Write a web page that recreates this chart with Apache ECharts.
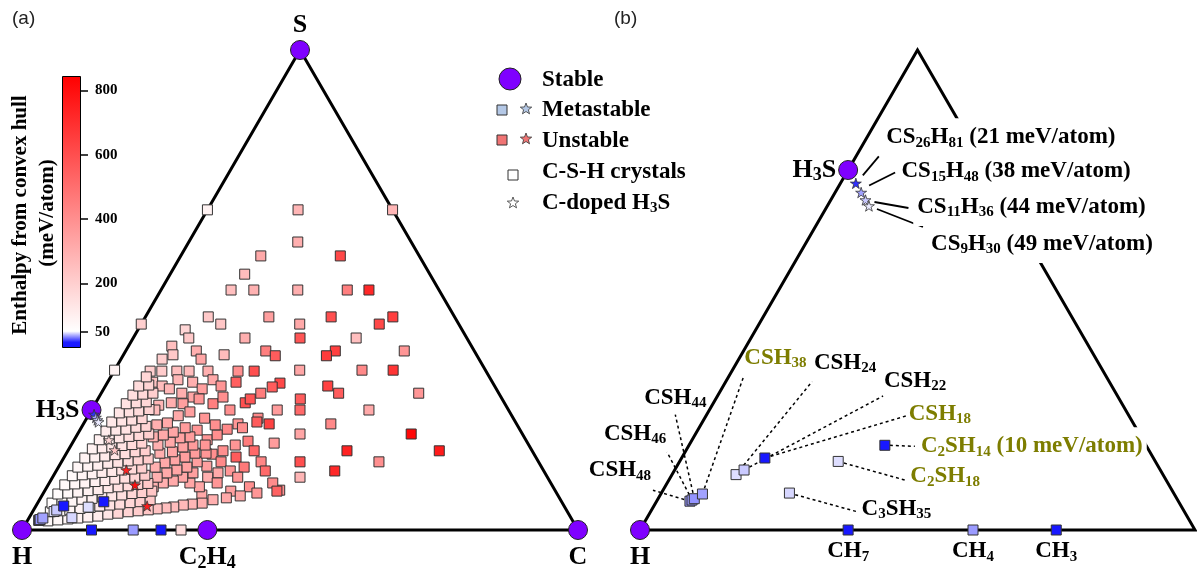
<!DOCTYPE html>
<html><head><meta charset="utf-8">
<script src="https://cdn.jsdelivr.net/npm/echarts@6/dist/echarts.min.js"></script>
<style>html,body{margin:0;padding:0;background:#fff}#c{width:1201px;height:579px}</style>
</head><body><div id="c"></div>
<script>
// ================= DATA =================
// stable phases: [name, C atoms, S atoms, H atoms]
const stablePhases = [['H',0,0,1],['C',1,0,0],['S',0,1,0],['C2H4',2,0,4],['H3S',0,1,3]];
// metastable C-S-H phases: [name, C, S, H, enthalpy above hull (meV/atom)]
const metastablePhases = [
  ['CSH48',1,1,48,36],['CSH46',1,1,46,37],['CSH44',1,1,44,36],['CSH38',1,1,38,38],
  ['CSH24',1,1,24,47],['CSH22',1,1,22,44],['CSH18',1,1,18,10],['C2SH14',2,1,14,10],
  ['C2SH18',2,1,18,47],['C3SH35',3,1,35,46],['CH7',1,0,7,8],['CH4',1,0,4,37],['CH3',1,0,3,9]
];
// C-doped H3S: [name, C, S, H, enthalpy (meV/atom)]
const dopedH3S = [
  ['CS26H81',1,26,81,21],['CS15H48',1,15,48,38],['CS11H36',1,11,36,44],['CS9H30',1,9,30,49],
  ['CS3H12',1,3,12,180],['CS2H9',1,2,9,230],['CSH6',1,1,6,740],['C5S3H24',5,3,24,800],['C4SH15',4,1,15,760]
];
// all other searched C-S-H crystals: [S at.%, C at.%, enthalpy (meV/atom)]
const searchedPhases = [
 [66.7,16.3,280],[60,19.6,300],[57.1,14.4,320],[53.3,13.4,260],[50,12.6,250],[50,16.7,290],[50,24.6,300],[57.1,28.7,620],[50,33.5,450],[50,37.4,720],[66.7,33.3,280],[66.7,0,90],[42.9,0,200],[33.3,0,90],
 [44.4,33.4,600],[44.4,44.5,650],[42.9,28.5,320],[42.9,42.8,620],[40,30,580],[40,40.1,250],[37.3,37.7,650],[36.3,36.6,660],[37.3,50.1,380],[33.3,33.3,330],[33.3,44.5,420],[33.3,50.1,680],[30.6,31.1,620],[30,40,640],[28.5,42.7,560],[28.5,57.1,380],[27.3,36.4,560],[25,37.5,520],[25,49.9,320],[22.1,44.5,420],[20,40,330],[20,60,820],[16.5,50.2,740],[16.5,66.8,760],[14.2,42.9,600],[14.2,57.1,400],[12.3,50.1,720],[11,44.5,280],[8.3,42.2,400],
 [44.4,11.3,220],[42.9,14.3,230],[44.4,22.2,350],[41.7,8.5,180],[40,10,220],[40,20.1,300],[38.3,7.8,250],[37.3,12.7,300],[36.5,8.9,220],[35.6,14.4,330],[36.5,18.1,260],[37.3,25.2,450],[36.3,27.4,560],[35.6,7.4,200],[33.1,6.5,200],[33.1,8.6,210],[33.1,11.3,250],[33.1,13.5,260],[33.1,16.9,300],[33.1,22.3,400],[33.1,25.2,600],[30.8,8.1,240],[30,10.2,260],[31.3,12.4,280],[30.8,15.3,300],[31.3,18.7,320],[29.4,17.7,350],[30,20.8,380],[30.8,23.1,550],[29.4,11.8,280],[28.5,14.5,300],[27.7,16.9,330],[26.5,13.6,300],[26.3,15.8,350],[27.3,18.2,380],[26.3,21.2,450],[27.7,22.3,400],[26.5,26.9,600],[27.3,27.4,580],[28.5,28.7,460],[29.8,30.1,560],[25,33.4,360],[25,24.9,400],[23.3,30.8,420],[26,11.6,280],[25,11.4,260],
 [22.1,27.8,380],[22.5,31,560],[22.1,33.4,640],[21,26.4,420],[21.3,29,400],[18.5,31.4,460],[17.7,29.5,380],[18.1,36.3,360],[16.5,33.5,520],[16.5,27.9,400],[18.8,23.9,380],[19.8,25.2,400],[20.8,21.1,380],[15.8,26.3,400],[15.2,30.9,560],[14.2,28.7,420],[14.2,35.9,430],[13.1,33.4,470],[12.3,37.6,520],[12.3,31.3,380],[13.3,26.6,350],[11.9,29.3,320],[11,33.3,380],[11,27.9,300],[9.8,30.2,380],[9.8,40.2,410],[8.1,41.8,540],[9,36.4,400],[7.7,38.4,380],[8.1,33.5,350],[7.1,35.7,330],[6.7,33.4,320],[6.3,31.2,300],[7.3,28.7,320],[5.6,29.6,300],[5.4,27.9,280],[5.2,26.4,270],[4.8,24.9,260],[4.6,23.6,250],[4.4,22.1,240],[9,27.4,330],[9.8,25.3,330],[11.9,24.8,350],[11,23.4,330],[10.2,22.1,320],[9.8,20.5,300],[9,19.1,290],[14.2,24.4,350],[13.1,23.1,340],[12.5,21.6,330],[11.9,20.1,320],[11,18.8,300],[16,25.1,380],[16,23.1,360],[15.2,21.7,350],[14.6,20.2,330],[14,18.7,320],[13.1,17.4,300],[17.7,24.1,380],[17.7,21.9,360],[17.3,20.3,340],[16.3,18.9,330],[16,16.8,300],[19.4,20.5,360],[19.2,18.8,340],[18.3,17.5,320],[17.7,15.6,300],[21.3,18.7,360],[20.4,17,330],[19.8,15.5,320],[19.4,13.9,300],[22.3,15,320],[21.9,13.3,300],[24.6,17.9,350],[23.3,21.2,380],[23.8,16.2,320],[21.9,23.8,400],[0,28.6,160],
 [1.9,3.7,70],[2.1,5.4,75],[2.3,7.1,80],[2.5,8.8,90],[2.7,10.5,95],[2.9,12.2,110],[3.3,13.8,130],[3.5,15.5,180],[3.8,17.2,190],[4,18.9,210],[4.2,20.6,230],
 [3.8,3.2,65],[4,4.9,70],[4.2,6.5,80],[4.5,8.2,85],[4.7,9.9,100],[5,11.5,120],[5.2,13.2,140],[5.4,14.9,160],[5.7,16.6,180],[5.9,18.3,200],[6.3,19.9,220],
 [5.6,2.6,60],[5.8,4.3,70],[6,6,80],[6.4,7.6,90],[6.6,9.3,100],[6.9,11,115],[7.1,12.6,130],[7.3,14.3,150],[7.6,16,180],[7.8,17.7,200],[8.1,19.3,230],
 [7.5,2.7,65],[7.7,4.4,75],[7.9,6.1,85],[8.2,7.8,95],[8.4,9.5,110],[8.8,11.1,125],[9,12.8,145],[9.2,14.5,165],[9.5,16.1,190],[9.7,17.8,220],
 [9.4,3,70],[9.6,4.7,80],[9.8,6.4,90],[10.1,8.1,100],[10.3,9.8,115],[10.6,11.4,135],[10.8,13.1,155],[11,14.8,180],[11.4,16.4,210],
 [11.3,3.4,75],[11.5,5.1,85],[11.7,6.8,95],[12,8.4,110],[12.2,10.1,125],[12.5,11.7,145],[12.7,13.4,170],[12.9,15.1,200],
 [13.1,3.5,80],[13.3,5.2,90],[13.5,6.9,105],[13.9,8.5,120],[14.1,10.2,140],[14.4,11.9,160],[14.6,13.6,185],[14.8,15.3,210],
 [15,3.8,90],[15.2,5.5,100],[15.4,7.2,115],[15.7,8.9,130],[15.9,10.6,150],[16.3,12.2,175],[16.5,13.9,200],
 [16.9,4.2,95],[17.1,5.9,110],[17.3,7.5,125],[17.6,9.2,140],[17.8,10.9,165],[18.1,12.5,190],
 [18.8,4.5,100],[19,6.2,115],[19.2,7.9,130],[19.5,9.5,150],[19.7,11.2,170],[20,12.8,200],
 [20.6,4.8,110],[20.8,6.5,125],[21,8.2,140],[21.4,9.8,160],[21.6,11.5,185],
 [22.5,4.9,120],[22.7,6.6,135],[22.9,8.3,150],[23.2,10,175],
 [24.4,5.3,130],[24.6,7,145],[24.8,8.6,165],[25.1,10.3,190],
 [26.3,5.6,140],[26.5,7.3,160],[26.7,9,180],
 [28.1,5.9,150],[28.3,7.6,170],[28.5,9.3,200],
 [30,6,160],[30.2,7.7,190],
 [31.9,6.4,180]
];
const colorbarTicks = [50,200,400,600,800];
const enthalpyRange = [0,845];
const metastableCutoff = 50;

// ================= STYLE / LAYOUT =================
const SERIF = '"Liberation Serif","Times New Roman",serif';
const SANS = '"Liberation Sans",Arial,sans-serif';
const PURPLE = '#7f00ff';
const OLIVE = '#7d7d00';
const STAR = 'path://M0,-10L2.24,-3.09L9.51,-3.09L3.63,1.18L5.88,8.09L0,3.82L-5.88,8.09L-3.63,1.18L-9.51,-3.09L-2.24,-3.09Z';
const colorStops = [[0,[20,20,255]],[18,[28,28,255]],[52,[255,255,255]],[845,[255,0,0]]];
const stableLabelA = {H:['bottom',3],C:['bottom',3],S:['top',0],C2H4:['bottom',3],H3S:['left',2]};
const stableLabelB = {H:['bottom',3],H3S:['left',2]};
const annotB = {
  CSH48:{off:[-70,-31],line:[[0,0],[-37,-11]]},
  CSH46:{off:[-57,-66],line:[[0,0],[-25,-48]]},
  CSH44:{off:[-19,-101],line:[[0,0],[-19,-84]]},
  CSH38:{off:[73,-136],line:[[0,0],[41,-117]],olive:true},
  CSH24:{off:[109,-112],line:[[0,0],[76,-93]]},
  CSH22:{off:[171,-89],line:[[0,0],[139,-74]]},
  CSH18:{off:[175,-44],line:[[0,0],[141,-42]],olive:true},
  C2SH14:{off:[147,1],line:[[5,0],[30,1]],olive:true,showE:true},
  C2SH18:{off:[107,15],line:[[0,0],[68,19]],olive:true},
  C3SH35:{off:[107,16],line:[[0,0],[69,19]]},
  CH7:{below:true},CH4:{below:true},CH3:{below:true},
  CS26H81:{off:[145,-46],line:[[7,-8],[23,-27]],solid:true,showE:true},
  CS15H48:{off:[155,-21],line:[[8,-7],[34,-20]],solid:true,showE:true},
  CS11H36:{off:[166,7],line:[[9,2],[43,8]],solid:true,showE:true},
  CS9H30:{off:[173,38],line:[[8,3],[54,21]],solid:true,showE:true}
};

// ================= HELPERS =================
function frac(c,s,h){const n=c+s+h;return {c:100*c/n,s:100*s/n};}
function tern(s,c){return [c+s/2,s];}          // ternary -> (horizontal, S fraction)
function enthalpyColor(e){
  for(let i=1;i<colorStops.length;i++){
    if(e<=colorStops[i][0]||i===colorStops.length-1){
      const a=colorStops[i-1],b=colorStops[i];
      const t=Math.max(0,Math.min(1,(e-a[0])/(b[0]-a[0])));
      const c=a[1].map((v,k)=>Math.round(v+(b[1][k]-v)*t));
      return 'rgb('+c.join(',')+')';
    }
  }
}
function richFormula(name,suffix){
  let out=name.match(/[A-Za-z]+|\d+/g).map(p=>/\d/.test(p)?'{s|'+p+'}':'{n|'+p+'}').join('');
  if(suffix) out+='{n|'+suffix+'}';
  return out;
}
function richStyles(size,sub,color){
  return {n:{fontFamily:SERIF,fontWeight:'bold',fontSize:size,lineHeight:size+3,color:color||'#000'},
          s:{fontFamily:SERIF,fontWeight:'bold',fontSize:sub,lineHeight:Math.round(sub*0.66),verticalAlign:'bottom',color:color||'#000'}};
}
function starPts(cx,cy,R){const p=[];for(let i=0;i<10;i++){const r=i%2?R*0.42:R;const a=-Math.PI/2+i*Math.PI/5;p.push([cx+r*Math.cos(a),cy+r*Math.sin(a)]);}return p;}
const colorFn=p=>enthalpyColor(p.value[2]);

// ================= BUILD =================
const searchedPts = searchedPhases.map(d=>tern(d[0],d[1]).concat(d[2]));
const metaPts = metastablePhases.map(d=>{const f=frac(d[1],d[2],d[3]);return {name:d[0],value:tern(f.s,f.c).concat(d[4])};});
const starPtsData = dopedH3S.map(d=>{const f=frac(d[1],d[2],d[3]);return {name:d[0],value:tern(f.s,f.c).concat(d[4])};});
const stablePts = stablePhases.map(d=>{const f=frac(d[1],d[2],d[3]);return {name:d[0],f:f,value:tern(f.s,f.c)};});
const cornerA = [frac(0,0,1),frac(1,0,0),frac(0,1,0),frac(0,0,1)].map(f=>tern(f.s,f.c));
const cornerB = [frac(0,0,1),frac(1,0,2),frac(0,1,2),frac(0,0,1)].map(f=>tern(f.s,f.c));
const bMax = 100/3;

const stableA = stablePts.map(p=>({name:p.name,value:p.value,label:{position:stableLabelA[p.name][0],distance:stableLabelA[p.name][1]}}));
const stableB = stablePts.filter(p=>p.f.c<bMax-0.01&&p.f.s<bMax-0.01)
  .map(p=>({name:p.name,value:p.value,label:{position:stableLabelB[p.name][0],distance:stableLabelB[p.name][1]}}));

function annotItem(p){
  const a=annotB[p.name]||{};
  const lab=a.below?{position:'bottom',distance:3}:{position:'inside',offset:a.off};
  lab.rich=richStyles(23,15,a.olive?OLIVE:'#000');
  if(a.showE){lab.backgroundColor='#fff';lab.padding=[6,4,6,4];}
  return {name:p.name,value:p.value,label:lab};
}
const metaB = metaPts.filter(p=>p.value[2]<metastableCutoff).map(annotItem);
const starB = starPtsData.filter(p=>p.value[2]<metastableCutoff).map(annotItem);
const leaderItems = metaPts.concat(starPtsData).filter(p=>p.value[2]<metastableCutoff&&annotB[p.name]&&annotB[p.name].line);

const labelFormatterB = p=>{const a=annotB[p.name]||{};return richFormula(p.name,a.showE?' ('+p.value[2]+' meV/atom)':'');};

const cbStops = colorStops.slice().reverse().map(s=>({offset:1-(s[0]-enthalpyRange[0])/(enthalpyRange[1]-enthalpyRange[0]),color:'rgb('+s[1].join(',')+')'}));

const squareStyle = {color:colorFn,borderColor:'#333',borderWidth:1,opacity:1};
const rich26 = richStyles(26,18), rich23 = richStyles(23,15);

const option = {
  animation:false,
  textStyle:{fontFamily:SERIF},
  grid:[
    {left:22,top:50,width:556,height:480},
    {left:640,top:50,width:555,height:480},
    {left:62,top:76,width:19,height:272}
  ],
  xAxis:[
    {gridIndex:0,type:'value',min:0,max:100,show:false},
    {gridIndex:1,type:'value',min:0,max:bMax,show:false},
    {gridIndex:2,type:'category',data:['E'],show:false}
  ],
  yAxis:[
    {gridIndex:0,type:'value',min:0,max:100,show:false},
    {gridIndex:1,type:'value',min:0,max:bMax,show:false},
    {gridIndex:2,type:'value',min:enthalpyRange[0],max:enthalpyRange[1],position:'right',
     splitLine:{show:false},axisLine:{show:false},
     axisTick:{show:true,customValues:colorbarTicks,length:7,lineStyle:{color:'#000',width:1.5}},
     axisLabel:{show:true,customValues:colorbarTicks,margin:14,color:'#000',fontFamily:SERIF,fontWeight:'bold',fontSize:15}}
  ],
  series:[
    {type:'line',xAxisIndex:0,yAxisIndex:0,data:cornerA,showSymbol:false,symbol:'none',clip:false,silent:true,z:1,
     lineStyle:{color:'#000',width:3,join:'miter'}},
    {type:'scatter',xAxisIndex:0,yAxisIndex:0,data:searchedPts,symbol:'rect',symbolSize:10,clip:false,z:3,
     itemStyle:squareStyle},
    {type:'scatter',xAxisIndex:0,yAxisIndex:0,data:metaPts,symbol:'rect',symbolSize:10,clip:false,z:3,
     itemStyle:squareStyle},
    {type:'scatter',xAxisIndex:0,yAxisIndex:0,data:stableA,symbol:'circle',symbolSize:19,clip:false,z:4,
     itemStyle:{color:PURPLE,borderColor:'#222',borderWidth:1,opacity:1},
     label:{show:true,color:'#000',formatter:p=>richFormula(p.name),rich:rich26}},
    {type:'scatter',xAxisIndex:0,yAxisIndex:0,data:starPtsData,symbol:STAR,symbolSize:11,symbolKeepAspect:true,clip:false,z:5,
     itemStyle:{color:colorFn,borderColor:'#333',borderWidth:0.8,opacity:1}},

    {type:'line',xAxisIndex:1,yAxisIndex:1,data:cornerB,showSymbol:false,symbol:'none',clip:false,silent:true,z:1,
     lineStyle:{color:'#000',width:3,join:'miter'}},
    {type:'custom',xAxisIndex:1,yAxisIndex:1,coordinateSystem:'cartesian2d',clip:false,z:2,silent:true,
     data:leaderItems.map(p=>({name:p.name,value:[p.value[0],p.value[1]]})),
     renderItem:(params,api)=>{
       const pt=api.coord([api.value(0),api.value(1)]);
       const a=annotB[leaderItems[params.dataIndex].name];
       return {type:'line',shape:{x1:pt[0]+a.line[0][0],y1:pt[1]+a.line[0][1],x2:pt[0]+a.line[1][0],y2:pt[1]+a.line[1][1]},
               style:{stroke:'#000',lineWidth:a.solid?1.8:1.5,lineDash:a.solid?null:[3,3]}};
     }},
    {type:'scatter',xAxisIndex:1,yAxisIndex:1,data:metaB,symbol:'rect',symbolSize:10,clip:false,z:3,
     itemStyle:squareStyle,
     label:{show:true,color:'#000',formatter:labelFormatterB,rich:rich23}},
    {type:'scatter',xAxisIndex:1,yAxisIndex:1,data:stableB,symbol:'circle',symbolSize:19,clip:false,z:4,
     itemStyle:{color:PURPLE,borderColor:'#222',borderWidth:1,opacity:1},
     label:{show:true,color:'#000',formatter:p=>richFormula(p.name),rich:rich26}},
    {type:'scatter',xAxisIndex:1,yAxisIndex:1,data:starB,symbol:STAR,symbolSize:11,symbolKeepAspect:true,clip:false,z:5,
     itemStyle:{color:colorFn,borderColor:'#333',borderWidth:0.8,opacity:1},
     label:{show:true,color:'#000',formatter:labelFormatterB,rich:rich23}},

    {type:'bar',xAxisIndex:2,yAxisIndex:2,data:[enthalpyRange[1]],barWidth:'100%',silent:true,
     itemStyle:{color:new echarts.graphic.LinearGradient(0,0,0,1,cbStops),borderColor:'#000',borderWidth:1,opacity:1}}
  ],
  graphic:[
    {type:'text',x:12,y:19,style:{text:'(a)',font:'19px '+SANS,fill:'#222',verticalAlign:'middle'}},
    {type:'text',x:614,y:19,style:{text:'(b)',font:'19px '+SANS,fill:'#222',verticalAlign:'middle'}},
    {type:'text',x:21,y:215,rotation:Math.PI/2,style:{text:'Enthalpy from convex hull',font:'bold 21px '+SERIF,fill:'#000',align:'center',verticalAlign:'middle'}},
    {type:'text',x:48,y:213,rotation:Math.PI/2,style:{text:'(meV/atom)',font:'bold 21px '+SERIF,fill:'#000',align:'center',verticalAlign:'middle'}},
    // legend
    {type:'circle',shape:{cx:510,cy:79,r:11},style:{fill:PURPLE,stroke:'#222',lineWidth:1}},
    {type:'text',x:542,y:80,style:{text:'Stable',font:'bold 23px '+SERIF,fill:'#000',verticalAlign:'middle'}},
    {type:'rect',shape:{x:497,y:105,width:10,height:10},style:{fill:'#b4c8e6',stroke:'#333',lineWidth:1}},
    {type:'polygon',shape:{points:starPts(526,109,6)},style:{fill:'#b4c8e6',stroke:'#333',lineWidth:0.8}},
    {type:'text',x:542,y:110,style:{text:'Metastable',font:'bold 23px '+SERIF,fill:'#000',verticalAlign:'middle'}},
    {type:'rect',shape:{x:497,y:135,width:10,height:10},style:{fill:'#f07474',stroke:'#333',lineWidth:1}},
    {type:'polygon',shape:{points:starPts(526,139,6)},style:{fill:'#f07474',stroke:'#333',lineWidth:0.8}},
    {type:'text',x:542,y:141,style:{text:'Unstable',font:'bold 23px '+SERIF,fill:'#000',verticalAlign:'middle'}},
    {type:'rect',shape:{x:508,y:170,width:10,height:10},style:{fill:'#fff',stroke:'#333',lineWidth:1}},
    {type:'text',x:542,y:172,style:{text:'C-S-H crystals',font:'bold 23px '+SERIF,fill:'#000',verticalAlign:'middle'}},
    {type:'polygon',shape:{points:starPts(513,203,6)},style:{fill:'#fff',stroke:'#333',lineWidth:0.8}},
    {type:'text',x:542,y:203,style:{text:'{n|C-doped H}{s|3}{n|S}',rich:richStyles(23,15),fill:'#000',verticalAlign:'middle'}}
  ]
};
const chart = echarts.init(document.getElementById('c'));
chart.setOption(option);
</script>
</body></html>
